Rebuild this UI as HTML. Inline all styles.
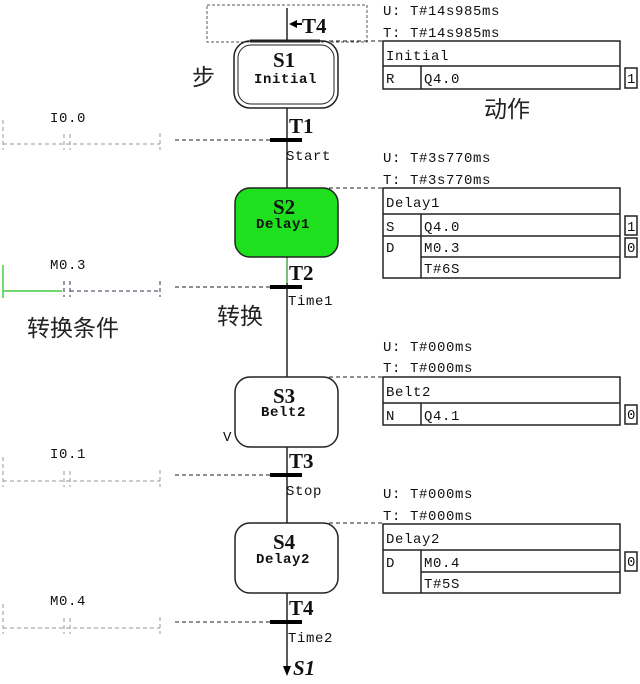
<!DOCTYPE html>
<html><head><meta charset="utf-8"><style>
html,body{margin:0;padding:0;background:#fff;}
svg{display:block;}
.m{font-family:"Liberation Mono",monospace;font-size:14px;fill:#111;letter-spacing:0.6px;}
.b{font-weight:bold;}
.s{font-family:"Liberation Serif",serif;font-weight:bold;font-size:21px;fill:#111;}
.c{font-family:"Liberation Sans","Noto Sans CJK SC",sans-serif;font-size:23px;fill:#222;}
</style></head><body>
<svg width="640" height="684" viewBox="0 0 640 684" xmlns="http://www.w3.org/2000/svg">
<g stroke="#222" fill="none">
<rect x="207" y="5" width="160" height="37" stroke-dasharray="3,2" stroke="#555"/>
<line x1="287" y1="8" x2="287" y2="42" stroke-width="1.5"/>
<line x1="287" y1="108" x2="287" y2="188" stroke-width="1.5"/>
<line x1="287" y1="257" x2="287" y2="377" stroke-width="1.5"/>
<line x1="287" y1="258" x2="287" y2="283" stroke="#7c7" stroke-width="1.5"/>
<line x1="287" y1="447" x2="287" y2="523" stroke-width="1.5"/>
<line x1="287" y1="593" x2="287" y2="668" stroke-width="1.5"/>
<rect x="234" y="41" width="104" height="67" rx="16" stroke-width="1.5"/>
<rect x="238" y="45" width="96" height="59" rx="13" stroke-width="1"/>
<line x1="250" y1="41" x2="320" y2="41" stroke-width="3"/>
<rect x="235" y="188" width="103" height="69" rx="15" fill="#1fe01f" stroke-width="1.5"/>
<rect x="235" y="377" width="103" height="70" rx="15" stroke-width="1.5"/>
<rect x="235" y="523" width="103" height="70" rx="15" stroke-width="1.5"/>
<line x1="270" y1="140" x2="302" y2="140" stroke="#000" stroke-width="4"/>
<line x1="270" y1="287" x2="302" y2="287" stroke="#000" stroke-width="4"/>
<line x1="270" y1="475" x2="302" y2="475" stroke="#000" stroke-width="4"/>
<line x1="270" y1="622" x2="302" y2="622" stroke="#000" stroke-width="4"/>
<g stroke-dasharray="4,3" stroke="#222">
<line x1="175" y1="140" x2="270" y2="140"/>
<line x1="175" y1="287" x2="270" y2="287"/>
<line x1="175" y1="475" x2="270" y2="475"/>
<line x1="175" y1="622" x2="270" y2="622"/>
<line x1="322" y1="41" x2="383" y2="41"/>
<line x1="322" y1="188" x2="383" y2="188"/>
<line x1="322" y1="377" x2="383" y2="377"/>
<line x1="322" y1="523" x2="383" y2="523"/>
</g>
<g stroke="#999" stroke-dasharray="4,3">
<line x1="3" y1="144" x2="160" y2="144"/>
<line x1="3" y1="120" x2="3" y2="150"/>
<line x1="160" y1="133" x2="160" y2="150"/>
<line x1="64" y1="134" x2="64" y2="150"/><line x1="70" y1="134" x2="70" y2="150"/>
<line x1="3" y1="481" x2="160" y2="481"/>
<line x1="3" y1="457" x2="3" y2="487"/>
<line x1="160" y1="470" x2="160" y2="487"/>
<line x1="64" y1="471" x2="64" y2="487"/><line x1="70" y1="471" x2="70" y2="487"/>
<line x1="3" y1="628" x2="160" y2="628"/>
<line x1="3" y1="604" x2="3" y2="634"/>
<line x1="160" y1="617" x2="160" y2="634"/>
<line x1="64" y1="618" x2="64" y2="634"/><line x1="70" y1="618" x2="70" y2="634"/>
</g>
<line x1="3" y1="265" x2="3" y2="298" stroke="#4c4" stroke-width="1.5"/>
<line x1="3" y1="291" x2="62" y2="291" stroke="#4c4" stroke-width="1.5"/>
<g stroke="#335" stroke-dasharray="4,3">
<line x1="70" y1="291" x2="160" y2="291"/>
<line x1="64" y1="281" x2="64" y2="297"/><line x1="70" y1="281" x2="70" y2="297"/>
<line x1="160" y1="281" x2="160" y2="297"/>
</g>
<g stroke="#222" stroke-width="1.5">
<rect x="383" y="41" width="237" height="48"/><line x1="383" y1="66" x2="620" y2="66"/><line x1="421" y1="66" x2="421" y2="89"/>
<rect x="625" y="68" width="12" height="20"/>
<rect x="383" y="188" width="237" height="90"/><line x1="383" y1="214" x2="620" y2="214"/><line x1="383" y1="236" x2="620" y2="236"/><line x1="421" y1="257" x2="620" y2="257"/><line x1="421" y1="214" x2="421" y2="278"/>
<rect x="625" y="216" width="12" height="19"/><rect x="625" y="238" width="12" height="19"/>
<rect x="383" y="377" width="237" height="48"/><line x1="383" y1="403" x2="620" y2="403"/><line x1="421" y1="403" x2="421" y2="425"/>
<rect x="625" y="405" width="12" height="19"/>
<rect x="383" y="524" width="237" height="69"/><line x1="383" y1="550" x2="620" y2="550"/><line x1="421" y1="572" x2="620" y2="572"/><line x1="421" y1="550" x2="421" y2="593"/>
<rect x="625" y="552" width="12" height="19"/>
</g>
</g>
<polygon points="289,24 297,20 297,28" fill="#000"/><line x1="295" y1="24" x2="302" y2="24" stroke="#000" stroke-width="2"/>
<polygon points="283,666 291,666 287,676" fill="#000"/>
<text class="s" x="302" y="33">T4</text>
<text class="s" x="273" y="67">S1</text><text class="m b" x="254" y="83">Initial</text>
<text class="s" x="273" y="214">S2</text><text class="m b" x="256" y="228" fill="#114411">Delay1</text>
<text class="s" x="273" y="403">S3</text><text class="m b" x="261" y="416">Belt2</text>
<text class="s" x="273" y="549">S4</text><text class="m b" x="256" y="563">Delay2</text>
<text class="s" x="289" y="133">T1</text><text class="m" x="286" y="160">Start</text>
<text class="s" x="289" y="280">T2</text><text class="m" x="288" y="305">Time1</text>
<text class="s" x="289" y="468">T3</text><text class="m" x="286" y="495">Stop</text>
<text class="s" x="289" y="615">T4</text><text class="m" x="288" y="642">Time2</text>
<text class="s" x="293" y="675" font-style="italic">S1</text>
<text class="m" x="223" y="441" fill="#888" font-size="12">V</text>
<text class="m" x="50" y="122">I0.0</text>
<text class="m" x="50" y="269">M0.3</text>
<text class="m" x="50" y="458">I0.1</text>
<text class="m" x="50" y="605">M0.4</text>
<text class="m" x="383" y="15">U: T#14s985ms</text>
<text class="m" x="383" y="37">T: T#14s985ms</text>
<text class="m" x="386" y="60">Initial</text>
<text class="m" x="386" y="83">R</text><text class="m" x="424" y="83">Q4.0</text><text class="m" x="627" y="83" font-size="12">1</text>
<text class="m" x="383" y="162">U: T#3s770ms</text>
<text class="m" x="383" y="184">T: T#3s770ms</text>
<text class="m" x="386" y="207">Delay1</text>
<text class="m" x="386" y="231">S</text><text class="m" x="424" y="231">Q4.0</text><text class="m" x="627" y="231" font-size="12">1</text>
<text class="m" x="386" y="252">D</text><text class="m" x="424" y="252">M0.3</text><text class="m" x="627" y="252" font-size="12">0</text>
<text class="m" x="424" y="273">T#6S</text>
<text class="m" x="383" y="351">U: T#000ms</text>
<text class="m" x="383" y="372">T: T#000ms</text>
<text class="m" x="386" y="396">Belt2</text>
<text class="m" x="386" y="420">N</text><text class="m" x="424" y="420">Q4.1</text><text class="m" x="627" y="419" font-size="12">0</text>
<text class="m" x="383" y="498">U: T#000ms</text>
<text class="m" x="383" y="520">T: T#000ms</text>
<text class="m" x="386" y="543">Delay2</text>
<text class="m" x="386" y="567">D</text><text class="m" x="424" y="567">M0.4</text><text class="m" x="627" y="566" font-size="12">0</text>
<text class="m" x="424" y="588">T#5S</text>
<text class="c" x="192" y="85">步</text>
<text class="c" x="484" y="117">动作</text>
<text class="c" x="27" y="336">转换条件</text>
<text class="c" x="217" y="324">转换</text>
</svg>
</body></html>
